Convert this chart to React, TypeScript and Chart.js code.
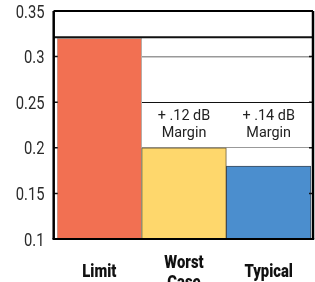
import React, { useEffect, useRef } from 'react';
import { Chart, registerables } from 'chart.js';

Chart.register(...registerables);

const categories: string[][] = [['Limit'], ['Worst', 'Case'], ['Typical']];
const values = [0.32, 0.2, 0.18];
const barColors = ['#F27052', '#FED76C', '#4B8ECE'];
const barBorders = ['#b8aca6', '#6b5d3a', '#3d4a58'];
const yTicks = [0.1, 0.15, 0.2, 0.25, 0.3, 0.35];
const yTickLabels = ['0.1', '0.15', '0.2', '0.25', '0.3', '0.35'];
const marginLabels: (string[] | null)[] = [null, ['+ .12 dB', 'Margin'], ['+ .14 dB', 'Margin']];
const limitValue = 0.32;

function squeezedText(ctx: CanvasRenderingContext2D, text: string, x: number, y: number, sx: number, align: 'left' | 'center' | 'right') {
  ctx.save();
  ctx.translate(x, y);
  ctx.scale(sx, 1);
  ctx.textAlign = align;
  ctx.fillText(text, 0, 0);
  ctx.restore();
}

const framePlugin = {
  id: 'frame',
  afterDatasetsDraw(chart: any) {
    const { ctx, chartArea: a, scales } = chart;
    const y = scales.y;
    const x = scales.x;
    const L = a.left - 3.3;
    const R = a.right + 2;
    ctx.save();
    // limit line
    const ly = y.getPixelForValue(limitValue) - 1;
    ctx.strokeStyle = '#111';
    ctx.lineWidth = 2;
    ctx.beginPath();
    ctx.moveTo(L, ly);
    ctx.lineTo(R, ly);
    ctx.stroke();
    // inward tick marks
    ctx.lineWidth = 1.5;
    yTicks.forEach((v) => {
      const py = y.getPixelForValue(v);
      ctx.beginPath();
      ctx.moveTo(L, py);
      ctx.lineTo(L + 4, py);
      ctx.moveTo(R, py);
      ctx.lineTo(R - 4, py);
      ctx.stroke();
    });
    // frame
    ctx.strokeStyle = '#000';
    ctx.lineWidth = 2;
    ctx.beginPath();
    ctx.moveTo(L, a.top);
    ctx.lineTo(R, a.top);
    ctx.stroke();
    ctx.lineWidth = 2.5;
    ctx.beginPath();
    ctx.moveTo(L, a.top);
    ctx.lineTo(L, a.bottom);
    ctx.moveTo(R, a.top);
    ctx.lineTo(R, a.bottom);
    ctx.stroke();
    ctx.lineWidth = 2;
    ctx.beginPath();
    ctx.moveTo(L - 1.2, a.bottom);
    ctx.lineTo(R + 1.2, a.bottom);
    ctx.stroke();

    // y tick labels
    ctx.fillStyle = '#2a2a2a';
    ctx.font = '18px Roboto, sans-serif';
    ctx.textBaseline = 'alphabetic';
    yTicks.forEach((v, i) => {
      const py = y.getPixelForValue(v);
      squeezedText(ctx, yTickLabels[i], 44.5, py + 6.5, 0.82, 'right');
    });

    // x category labels
    ctx.fillStyle = '#111';
    ctx.font = '900 19px Roboto, sans-serif';
    categories.forEach((lines, i) => {
      const px = x.getPixelForValue(i);
      if (lines.length === 1) {
        squeezedText(ctx, lines[0], px, a.bottom + 38, 0.78, 'center');
      } else {
        squeezedText(ctx, lines[0], px, a.bottom + 29, 0.78, 'center');
        squeezedText(ctx, lines[1], px, a.bottom + 49, 0.78, 'center');
      }
    });

    // margin annotations
    const mid = (y.getPixelForValue(0.25) + y.getPixelForValue(0.2)) / 2;
    ctx.fillStyle = '#222';
    ctx.font = '15.5px Roboto, sans-serif';
    ctx.textBaseline = 'middle';
    marginLabels.forEach((lines, i) => {
      if (!lines) return;
      const px = x.getPixelForValue(i);
      squeezedText(ctx, lines[0], px, mid - 9, 0.93, 'center');
      squeezedText(ctx, lines[1], px, mid + 8, 0.93, 'center');
    });
    ctx.restore();
  },
};

export default function App() {
  const ref = useRef<HTMLCanvasElement | null>(null);
  useEffect(() => {
    if (!ref.current) return;
    const chart = new Chart(ref.current, {
      type: 'bar',
      data: {
        labels: categories.map((c) => c.join(' ')),
        datasets: [
          {
            data: values,
            backgroundColor: barColors,
            borderColor: barBorders,
            borderWidth: 1,
            barPercentage: 1,
            categoryPercentage: 1,
          },
        ],
      },
      options: {
        animation: false,
        responsive: false,
        layout: { padding: { top: 11, right: 4, left: 0, bottom: 0 } },
        plugins: { legend: { display: false }, tooltip: { enabled: false }, title: { display: false } },
        scales: {
          x: {
            grid: { display: false, drawTicks: false },
            border: { display: false },
            ticks: { display: false },
            afterFit: (s: any) => {
              s.height = 43;
            },
          },
          y: {
            min: 0.1,
            max: 0.35,
            afterBuildTicks: (s: any) => {
              s.ticks = yTicks.map((v) => ({ value: v }));
            },
            afterFit: (s: any) => {
              s.width = 57;
            },
            grid: {
              drawTicks: false,
              color: (c: any) => {
                const v = c.tick ? c.tick.value : 0;
                if (Math.abs(v - 0.25) < 1e-6) return '#111';
                if (v < 0.12 || v > 0.33) return 'rgba(0,0,0,0)';
                return '#999';
              },
              lineWidth: (c: any) => {
                const v = c.tick ? c.tick.value : 0;
                if (Math.abs(v - 0.3) < 1e-6) return 1.5;
                return 1;
              },
            },
            border: { display: false },
            ticks: { display: false },
          },
        },
      },
      plugins: [framePlugin],
    });
    return () => chart.destroy();
  }, []);
  return (
    <div style={{ position: 'absolute', left: 0, top: 0, width: 315, height: 282, background: '#fff' }}>
      <canvas ref={ref} width={315} height={282} style={{ display: 'block' }} />
    </div>
  );
}
